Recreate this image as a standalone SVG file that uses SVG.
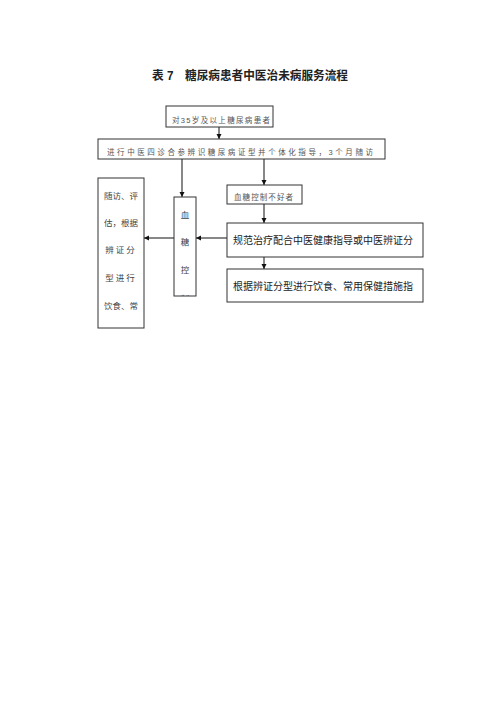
<svg xmlns="http://www.w3.org/2000/svg" width="500" height="707" viewBox="0 0 500 707">
<style>
.box{fill:#fff;stroke:#333;stroke-width:1}
.ln{fill:none;stroke:#111;stroke-width:1}
.t{font-family:"Liberation Sans","Noto Sans CJK SC",sans-serif;fill:#222}
.s{font-size:7.5px;fill:#555}
.m{font-size:10px}
.v{font-size:8.5px;fill:#444}
</style>
<defs>
<marker id="ah" markerWidth="6" markerHeight="6" refX="5" refY="3" orient="auto" markerUnits="userSpaceOnUse">
<path d="M0,0.5 L5,3 L0,5.5 Z" fill="#111"/>
</marker>
<clipPath id="cv"><rect x="174" y="197" width="22" height="99"/></clipPath>
</defs>
<rect width="500" height="707" fill="#fff"/>
<text class="t" x="152" y="80" font-size="12" font-weight="bold" fill="#111" textLength="196" lengthAdjust="spacingAndGlyphs">表 7　糖尿病患者中医治未病服务流程</text>

<g id="connectors">
<line class="ln" x1="219" y1="127" x2="219" y2="139" marker-end="url(#ah)"/>
<line class="ln" x1="182" y1="159" x2="182" y2="197" marker-end="url(#ah)"/>
<line class="ln" x1="264" y1="159" x2="264" y2="185" marker-end="url(#ah)"/>
<line class="ln" x1="264" y1="204" x2="264" y2="223" marker-end="url(#ah)"/>
<line class="ln" x1="264" y1="257" x2="264" y2="269" marker-end="url(#ah)"/>
<line class="ln" x1="227" y1="238" x2="196" y2="238" marker-end="url(#ah)"/>
<line class="ln" x1="174" y1="238" x2="144" y2="238" marker-end="url(#ah)"/>
</g>

<g id="n1">
<rect class="box" x="166" y="106" width="107" height="21"/>
<text class="t s" x="172" y="123" textLength="98" lengthAdjust="spacing">对35岁及以上糖尿病患者</text>
</g>
<g id="n2">
<rect class="box" x="98" y="139" width="287" height="20"/>
<text class="t s" x="107" y="155" textLength="266" lengthAdjust="spacing">进行中医四诊合参辨识糖尿病证型并个体化指导，3个月随访</text>
</g>
<g id="n3">
<rect class="box" x="227" y="185" width="75" height="19"/>
<text class="t s" x="234" y="200" textLength="59" lengthAdjust="spacing">血糖控制不好者</text>
</g>
<g id="n4">
<rect class="box" x="227" y="223" width="196" height="34"/>
<text class="t m" x="233" y="244" textLength="180" lengthAdjust="spacing">规范治疗配合中医健康指导或中医辨证分</text>
</g>
<g id="n5">
<rect class="box" x="227" y="269" width="196" height="33"/>
<text class="t m" x="233" y="290" textLength="180" lengthAdjust="spacing">根据辨证分型进行饮食、常用保健措施指</text>
</g>
<g id="n6">
<rect class="box" x="174" y="197" width="22" height="99"/>
<g clip-path="url(#cv)">
<text class="t v" x="185" y="218" text-anchor="middle">血</text>
<text class="t v" x="185" y="245" text-anchor="middle">糖</text>
<text class="t v" x="185" y="273" text-anchor="middle">控</text>
<text class="t v" x="185" y="302" text-anchor="middle">制</text>
</g>
</g>
<g id="n7">
<rect class="box" x="98" y="178" width="46" height="150"/>
<text class="t v" x="121" y="199" text-anchor="middle">随访、评</text>
<text class="t v" x="121" y="226" text-anchor="middle">估，根据</text>
<text class="t v" x="121" y="253" text-anchor="middle" letter-spacing="2">辨证分</text>
<text class="t v" x="121" y="281" text-anchor="middle" letter-spacing="2">型进行</text>
<text class="t v" x="121" y="309" text-anchor="middle">饮食、常</text>
</g>
</svg>
